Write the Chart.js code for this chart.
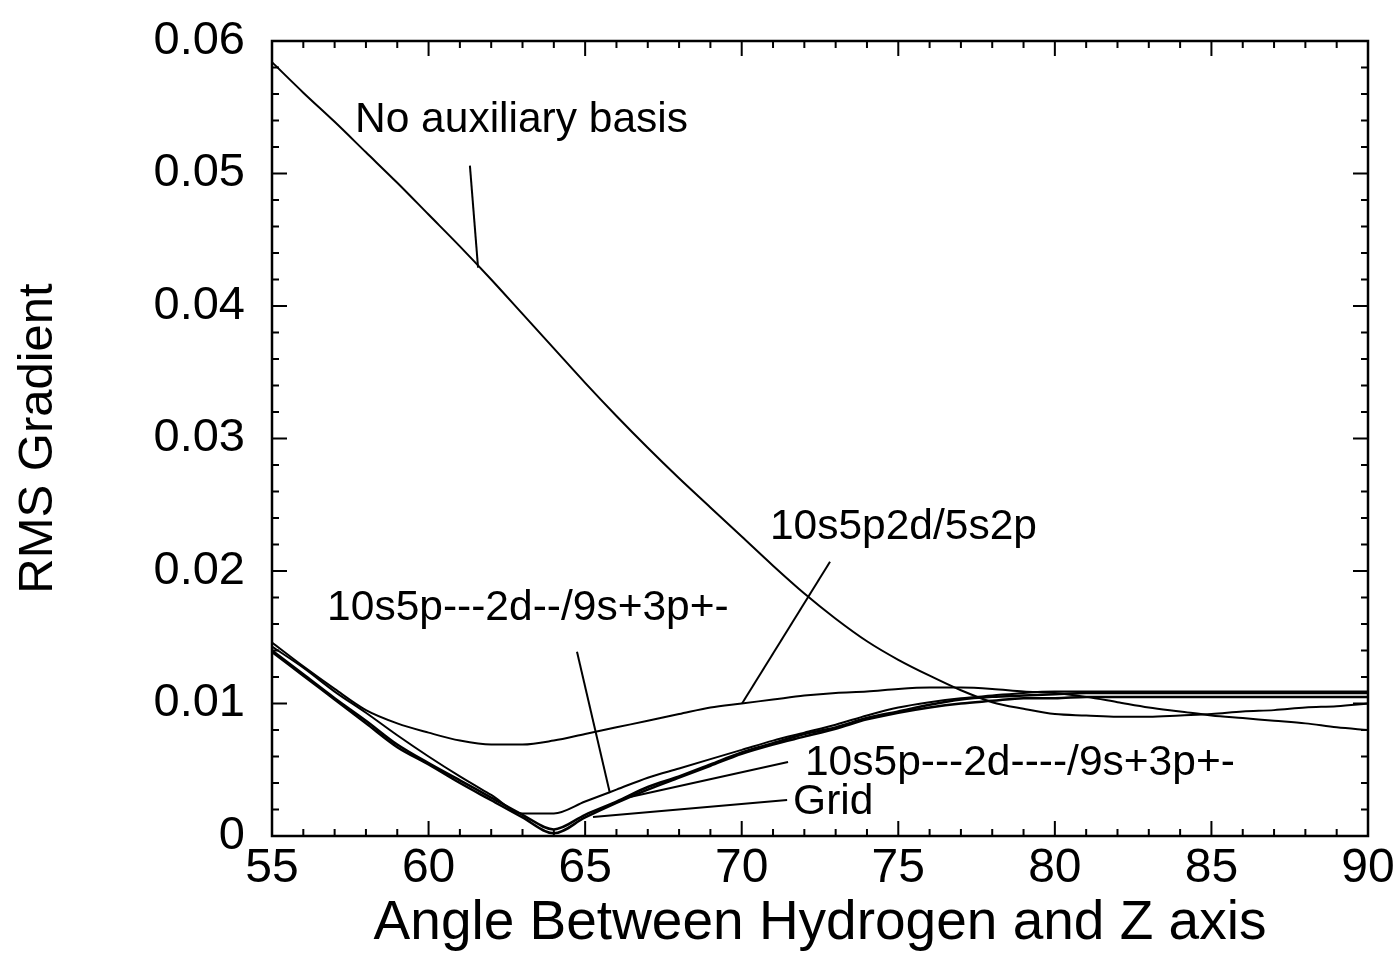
<!DOCTYPE html>
<html>
<head>
<meta charset="utf-8">
<script src="https://cdn.jsdelivr.net/npm/chart.js@4.4.1/dist/chart.umd.min.js"></script>
<style>
  html, body { margin: 0; padding: 0; background: #fff; }
  #c { display: block; }
</style>
</head>
<body>
<canvas id="c" width="1400" height="959"></canvas>
<script>
// ===== data =====
const angles = [55, 56, 57, 58, 59, 60, 61, 62, 63, 64, 65, 66, 67, 68, 69, 70, 71, 72,
                73, 74, 75, 76, 77, 78, 79, 80, 81, 82, 83, 84, 85, 86, 87, 88, 89, 90];

const noAux = [0.0584, 0.0561, 0.0539, 0.0516, 0.0493, 0.0469, 0.0445, 0.0420, 0.0394, 0.0368,
               0.0342, 0.0317, 0.0293, 0.0270, 0.0248, 0.0226, 0.0204, 0.0183, 0.0164, 0.0147,
               0.0133, 0.0121, 0.0110, 0.0101, 0.0096, 0.0092, 0.0091, 0.0090, 0.0090, 0.0091,
               0.0092, 0.0094, 0.0095, 0.0097, 0.0098, 0.0100];

const aux10s5p2d = [0.0146, 0.0128, 0.0111, 0.0095, 0.0085, 0.0078, 0.0072, 0.0069, 0.0069, 0.0072,
                    0.0077, 0.0082, 0.0087, 0.0092, 0.0097, 0.0100, 0.0103, 0.0106, 0.0108, 0.0109,
                    0.0111, 0.0112, 0.0112, 0.0111, 0.0109, 0.0108, 0.0105, 0.0101, 0.0097, 0.0094,
                    0.0091, 0.0089, 0.0087, 0.0085, 0.0082, 0.0080];

const auxDashShort = [0.0143, 0.0127, 0.0109, 0.0093, 0.0076, 0.0060, 0.0045, 0.0031, 0.0017, 0.0017,
                      0.0026, 0.0035, 0.0044, 0.0051, 0.0058, 0.0065, 0.0072, 0.0078, 0.0084, 0.0091,
                      0.0097, 0.0101, 0.0104, 0.0106, 0.0108, 0.0109, 0.0109, 0.0109, 0.0109, 0.0109,
                      0.0109, 0.0109, 0.0109, 0.0109, 0.0109, 0.0109];

const auxDashLong = [0.0140, 0.0122, 0.0104, 0.0087, 0.0069, 0.0055, 0.0042, 0.0029, 0.0016, 0.0005,
                     0.0016, 0.0026, 0.0037, 0.0045, 0.0054, 0.0063, 0.0070, 0.0077, 0.0082, 0.0089,
                     0.0094, 0.0099, 0.0103, 0.0105, 0.0106, 0.0107, 0.0108, 0.0108, 0.0108, 0.0108,
                     0.0108, 0.0108, 0.0108, 0.0108, 0.0108, 0.0108];

const grid = [0.0139, 0.0121, 0.0103, 0.0085, 0.0067, 0.0054, 0.0040, 0.0027, 0.0014, 0.0002,
              0.0014, 0.0025, 0.0035, 0.0044, 0.0053, 0.0062, 0.0069, 0.0075, 0.0081, 0.0088,
              0.0093, 0.0097, 0.0100, 0.0102, 0.0104, 0.0104, 0.0105, 0.0105, 0.0105, 0.0105,
              0.0105, 0.0105, 0.0105, 0.0105, 0.0105, 0.0105];

// labels on the curves (data coordinates) and their pointer lines
const noteText = ['No auxiliary basis', '10s5p2d/5s2p', '10s5p---2d--/9s+3p+-', '10s5p---2d----/9s+3p+-', 'Grid'];
const noteX = [57.65, 70.9, 56.76, 72.02, 71.64];
const noteY = [0.0540, 0.0233, 0.0172, 0.0055, 0.00257];
const pointerFrom = [[61.32, 0.0506], [72.82, 0.0207], [64.74, 0.0139], [71.48, 0.00558], [71.45, 0.00272]];
const pointerTo = [[61.58, 0.0429], [70.01, 0.0100], [65.79, 0.00325], [66.43, 0.00294], [65.25, 0.00143]];

const FONT = '"Liberation Sans", Arial, Helvetica, sans-serif';

function series(vals, width) {
    return {
        data: angles.map((a, i) => ({ x: a, y: vals[i] })),
        borderColor: '#000',
        borderWidth: width,
        pointRadius: 0,
        fill: false,
        cubicInterpolationMode: 'monotone'
    };
}

// ===== inward ticks on all four sides + frame =====
const frameTicks = {
    id: 'frameTicks',
    afterDatasetsDraw(chart) {
        const { ctx, chartArea: a, scales: { x, y } } = chart;
        ctx.save();
        ctx.strokeStyle = '#000';
        ctx.lineWidth = 2;
        ctx.beginPath();
        x.ticks.forEach(t => {
            const px = x.getPixelForValue(t.value);
            const len = Math.round(t.value) % 5 === 0 ? 15 : 7;
            ctx.moveTo(px, a.bottom); ctx.lineTo(px, a.bottom - len);
            ctx.moveTo(px, a.top); ctx.lineTo(px, a.top + len);
        });
        y.ticks.forEach(t => {
            const py = y.getPixelForValue(t.value);
            const len = Math.round(t.value * 1000) % 10 === 0 ? 15 : 7;
            ctx.moveTo(a.left, py); ctx.lineTo(a.left + len, py);
            ctx.moveTo(a.right, py); ctx.lineTo(a.right - len, py);
        });
        ctx.stroke();
        ctx.lineWidth = 2.5;
        ctx.strokeRect(a.left, a.top, a.right - a.left, a.bottom - a.top);
        ctx.restore();
    }
};

// ===== curve labels =====
const notes = {
    id: 'notes',
    afterDatasetsDraw(chart) {
        const { ctx, scales: { x, y } } = chart;
        ctx.save();
        ctx.fillStyle = '#000';
        ctx.strokeStyle = '#000';
        ctx.lineWidth = 2;
        ctx.font = '42.5px ' + FONT;
        ctx.textAlign = 'left';
        ctx.textBaseline = 'middle';
        noteText.forEach((txt, i) => {
            ctx.fillText(txt, x.getPixelForValue(noteX[i]), y.getPixelForValue(noteY[i]));
            ctx.beginPath();
            ctx.moveTo(x.getPixelForValue(pointerFrom[i][0]), y.getPixelForValue(pointerFrom[i][1]));
            ctx.lineTo(x.getPixelForValue(pointerTo[i][0]), y.getPixelForValue(pointerTo[i][1]));
            ctx.stroke();
        });
        ctx.restore();
    }
};

Chart.defaults.color = '#000';
Chart.defaults.font.family = FONT;

new Chart(document.getElementById('c'), {
    type: 'line',
    data: {
        datasets: [
            series(noAux, 2),
            series(aux10s5p2d, 2),
            series(auxDashShort, 2),
            series(auxDashLong, 2.5),
            series(grid, 2.5)
        ]
    },
    options: {
        responsive: false,
        animation: false,
        layout: { padding: { top: 41, right: 32, left: 0, bottom: 0 } },
        plugins: { legend: { display: false }, tooltip: { enabled: false } },
        scales: {
            x: {
                type: 'linear',
                min: 55,
                max: 90,
                grid: { display: false, drawTicks: false },
                border: { display: false },
                ticks: {
                    stepSize: 1,
                    autoSkip: false,
                    maxRotation: 0,
                    padding: 4,
                    font: { size: 48 },
                    callback: v => (Math.round(v) % 5 === 0 ? String(v) : '')
                },
                title: {
                    display: true,
                    text: 'Angle Between Hydrogen and Z axis',
                    font: { size: 55 },
                    padding: { top: 0, bottom: 2 }
                },
                afterFit: s => { s.height = 123; s.paddingLeft = 0; s.paddingRight = 0; }
            },
            y: {
                type: 'linear',
                min: 0,
                max: 0.06,
                grid: { display: false, drawTicks: false },
                border: { display: false },
                ticks: {
                    stepSize: 0.002,
                    autoSkip: false,
                    padding: 27,
                    font: { size: 47 },
                    callback: v => {
                        const k = Math.round(v * 1000);
                        if (k % 10 !== 0) return '';
                        return k === 0 ? '0' : (k / 1000).toFixed(2);
                    }
                },
                title: {
                    display: true,
                    text: 'RMS Gradient',
                    font: { size: 49 },
                    padding: { top: 9, bottom: 0 }
                },
                afterFit: s => { s.width = 272; s.paddingTop = 0; s.paddingBottom = 0; }
            }
        }
    },
    plugins: [frameTicks, notes]
});
</script>
</body>
</html>
